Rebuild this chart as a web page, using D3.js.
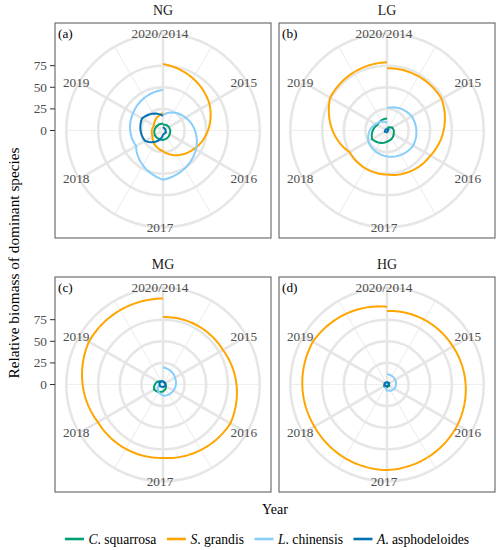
<!DOCTYPE html>
<html><head><meta charset="utf-8">
<script src="https://cdn.jsdelivr.net/npm/d3@7"></script>
<style>
body{margin:0;background:#fff}
svg text{font-family:'Liberation Serif','Times New Roman',Times,serif}
</style>
</head><body>
<svg id="chart" width="500" height="550" font-family="Liberation Serif, Times New Roman, serif"></svg>
<script>
// ---------- data ----------
const years = [2014, 2015, 2016, 2017, 2018, 2019, 2020];
const thetaTicks = [2014, 2015, 2016, 2017, 2018, 2019];
const thetaTickLabels = ["2020/2014", "2015", "2016", "2017", "2018", "2019"];
const thetaMinor = [2014.5, 2015.5, 2016.5, 2017.5, 2018.5, 2019.5];
const rTicks = [0, 25, 50, 75];
const rMax = 99.5;
const facets = ["NG", "LG", "MG", "HG"];
const tags = ["(a)", "(b)", "(c)", "(d)"];
const genus = ["C", "S", "L", "A"];
const epithet = ["squarrosa", "grandis", "chinensis", "asphodeloides"];
const colors = ["#009E73", "#FFA500", "#87CEFA", "#0072B2"];

const ngSquarrosa = [7, 8, 9, 11, 11, 9, 8];
const ngGrandis = [77, 62, 42, 24, 14, 12, 20];
const ngChinensis = [18, 30, 44, 57, 36, 40, 47];
const ngAsphodeloides = [4, 3, 4, 5, 24, 28, 17];

const lgSquarrosa = [2, 7, 9, 13, 20, 13, 14];
const lgGrandis = [72, 73, 58, 51, 50, 76, 79];
const lgChinensis = [26, 33, 35, 30, 25, 15, 9];
const lgAsphodeloides = [2, 2, 1, 2, 3, 2, 2];

const mgSquarrosa = [3, 3, 4, 8, 12, 7, 4];
const mgGrandis = [78, 80, 90, 85, 87, 99, 99.5];
const mgChinensis = [20, 16, 14, 13, 7, 4, 4];
const mgAsphodeloides = [4, 3, 3, 3, 4, 5, 4];

const hgSquarrosa = [2, 2, 3, 3, 4, 3, 2];
const hgGrandis = [85, 88, 94, 99, 97, 99, 90];
const hgChinensis = [12, 11, 10, 7, 3, 2, 2];
const hgAsphodeloides = [3, 3, 2, 2, 3, 3, 3];

const facetSeries = [
  [ngSquarrosa, ngGrandis, ngChinensis, ngAsphodeloides],
  [lgSquarrosa, lgGrandis, lgChinensis, lgAsphodeloides],
  [mgSquarrosa, mgGrandis, mgChinensis, mgAsphodeloides],
  [hgSquarrosa, hgGrandis, hgChinensis, hgAsphodeloides]
];

// ---------- layout ----------
const FONT = "Liberation Serif, Times New Roman, serif";
const svg = d3.select("#chart");
const panelW = 216, panelH = 215;
const panelX = [55, 279], panelY = [23, 277];
const gridCol = "#e6e6e6", minorCol = "#eeeeee", textCol = "#4d4d4d";

// custom D3 curve: x = angle, y = radius; joins points along polar-linear (spiral) segments
function polarCurve(R) {
  const MAXD = 3.383, SEG = 0.01;
  return function(context) {
    let pts = [];
    return {
      areaStart() {}, areaEnd() {},
      lineStart() { pts = []; },
      point(x, y) { pts.push([+x, +y]); },
      lineEnd() {
        if (!pts.length) return;
        const P = (a, r) => [r * Math.sin(a), -r * Math.cos(a)];
        let p = P(pts[0][0], pts[0][1]);
        context.moveTo(p[0], p[1]);
        for (let i = 1; i < pts.length; i++) {
          const [a0, r0] = pts[i - 1], [a1, r1] = pts[i];
          const rn = (r0 + r1) / 2 / R, dr = (r1 - r0) / R, da = a1 - a0;
          const dist = Math.sqrt(dr * dr + (rn * da) * (rn * da)) / MAXD;
          const n = Math.max(Math.floor(dist / SEG), 1);
          for (let k = 1; k <= n; k++) {
            const t = k / n;
            p = P(a0 + da * t, r0 + (r1 - r0) * t);
            context.lineTo(p[0], p[1]);
          }
        }
      }
    };
  };
}

facets.forEach((f, i) => {
  const col = i % 2, row = Math.floor(i / 2);
  const x0 = panelX[col], y0 = panelY[row];
  const g = svg.append("g").attr("transform", `translate(${x0},${y0})`);
  const cx = panelW / 2, cy = panelH / 2;
  const R = 0.4 * panelH, outer = 0.45 * panelH;
  const rS = d3.scaleLinear().domain([0, rMax]).range([0, R]);
  const tS = d3.scaleLinear().domain([2014, 2020]).range([0, 2 * Math.PI]);

  g.append("rect").attr("width", panelW).attr("height", panelH).attr("fill", "#fff");
  const c = g.append("g").attr("transform", `translate(${cx},${cy})`);

  c.selectAll(".maj").data(thetaTicks).join("line")
    .attr("x1", 0).attr("y1", 0)
    .attr("x2", d => outer * Math.sin(tS(d)))
    .attr("y2", d => -outer * Math.cos(tS(d)))
    .attr("stroke", gridCol).attr("stroke-width", 2.6);
  c.selectAll(".min").data(thetaMinor).join("line")
    .attr("x1", 0).attr("y1", 0)
    .attr("x2", d => outer * Math.sin(tS(d)))
    .attr("y2", d => -outer * Math.cos(tS(d)))
    .attr("stroke", minorCol).attr("stroke-width", 1.1);
  c.selectAll(".ring").data(rTicks.filter(v => v > 0).map(v => rS(v)).concat([outer])).join("circle")
    .attr("r", d => d).attr("fill", "none")
    .attr("stroke", gridCol).attr("stroke-width", 2.6);

  const line = d3.line()
    .x(d => tS(d.year))
    .y(d => rS(d.value))
    .curve(polarCurve(R));
  facetSeries[i].forEach((arr, s) => {
    c.append("path")
      .attr("d", line(years.map((y, k) => ({ year: y, value: arr[k] }))))
      .attr("fill", "none").attr("stroke", colors[s])
      .attr("stroke-width", 2).attr("stroke-linejoin", "round");
  });

  c.selectAll(".tl").data(thetaTicks).join("text")
    .attr("x", d => outer * Math.sin(tS(d)) - 3)
    .attr("y", d => -outer * Math.cos(tS(d)))
    .attr("text-anchor", "middle").attr("dominant-baseline", "central")
    .attr("font-family", FONT)
    .attr("font-size", 13.3).attr("fill", textCol)
    .text((d, k) => thetaTickLabels[k]);

  g.append("rect").attr("width", panelW).attr("height", panelH)
    .attr("fill", "none").attr("stroke", "#555").attr("stroke-width", 1);

  g.append("text").attr("x", 3).attr("y", 10).attr("dominant-baseline", "central")
    .attr("font-family", FONT)
    .attr("font-size", 13.3).attr("fill", "#000").text(tags[i]);

  g.append("text").attr("x", cx).attr("y", -13).attr("text-anchor", "middle")
    .attr("font-family", FONT)
    .attr("dominant-baseline", "central").attr("font-size", 13.9).attr("fill", "#1a1a1a").text(f);

  if (col === 0) {
    const ax = g.append("g");
    ax.selectAll("line").data(rTicks).join("line")
      .attr("x1", -5).attr("x2", 0)
      .attr("y1", d => cy - rS(d)).attr("y2", d => cy - rS(d))
      .attr("stroke", "#333").attr("stroke-width", 1);
    ax.selectAll("text").data(rTicks).join("text")
      .attr("x", -8).attr("y", d => cy - rS(d))
      .attr("text-anchor", "end").attr("dominant-baseline", "central")
      .attr("font-family", FONT)
      .attr("font-size", 13.3).attr("fill", textCol).text(d => d);
  }
});

svg.append("text").attr("transform", "translate(13,263) rotate(-90)")
  .attr("text-anchor", "middle").attr("dominant-baseline", "central")
  .attr("font-family", FONT)
  .attr("font-size", 15.3).attr("fill", "#000").text("Relative biomass of dominant species");
svg.append("text").attr("x", 275).attr("y", 509).attr("text-anchor", "middle")
  .attr("font-family", FONT)
  .attr("dominant-baseline", "central").attr("font-size", 14).attr("fill", "#000").text("Year");

const leg = svg.append("g");
const items = genus.map((gn, s) => {
  const it = leg.append("g");
  it.append("line").attr("x1", 0).attr("x2", 19).attr("y1", 0).attr("y2", 0)
    .attr("stroke", colors[s]).attr("stroke-width", 2.6);
  const t = it.append("text").attr("x", 23.5).attr("y", 0).attr("dominant-baseline", "central")
    .attr("font-family", FONT)
    .attr("font-size", 13.6).attr("fill", "#000");
  t.append("tspan").attr("font-style", "italic").text(gn);
  t.append("tspan").text(". " + epithet[s]);
  return { it, w: 23.5 + t.node().getComputedTextLength() };
});
const gap = 10.5;
const total = d3.sum(items, d => d.w) + gap * (items.length - 1);
let lx = 267 - total / 2;
items.forEach(d => { d.it.attr("transform", `translate(${lx},539)`); lx += d.w + gap; });
</script>
</body></html>
